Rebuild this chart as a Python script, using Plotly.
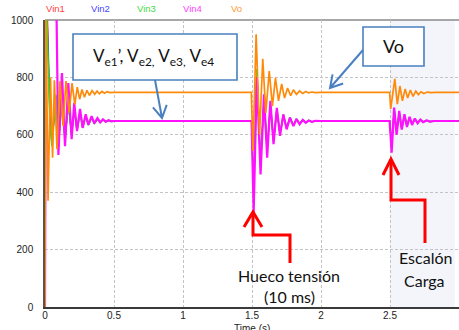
import plotly.graph_objects as go

# ---------------- data ----------------
t_vin = [0, 0.006, 0.02, 0.035, 0.05, 0.08, 0.097, 0.123, 0.145, 0.169, 0.193, 0.212, 0.232, 0.254,
         0.273, 0.295, 0.314, 0.338, 0.357, 0.38, 0.4, 0.42, 0.44, 0.46, 0.48, 0.5,
         1.497, 1.512, 1.535, 1.562, 1.587, 1.61, 1.633, 1.656, 1.68, 1.703, 1.727, 1.751, 1.775,
         1.80, 1.822, 1.845, 1.868, 1.89, 1.912, 1.935, 1.96, 2.0,
         2.497, 2.512, 2.53, 2.548, 2.567, 2.585, 2.605, 2.623, 2.642, 2.66, 2.68, 2.70, 2.72,
         2.74, 2.765, 2.79, 2.82, 3.0]

vin1 = [0, 1150, 980, 700, 570, 730, 565, 728, 582, 708, 601, 689, 616, 679, 626, 667, 635, 659, 641,
        655, 644, 652, 646, 650, 647, 648,
        648, 400, 825, 505, 722, 548, 703, 582, 687, 603, 669, 623, 660, 633, 654, 638, 651, 643,
        650, 645, 649, 648,
        648, 565, 688, 612, 674, 623, 667, 631, 660, 637, 655, 642, 652, 645, 650, 646, 648, 648]

vin2 = [0, 1150, 940, 670, 565, 735, 562, 729, 581, 709, 600, 690, 615, 680, 625, 668, 634, 660, 640,
        655, 644, 652, 646, 650, 647, 648,
        648, 398, 828, 502, 724, 546, 704, 581, 688, 602, 670, 622, 661, 632, 655, 638, 652, 643,
        650, 645, 649, 648,
        648, 562, 689, 611, 675, 622, 668, 630, 661, 636, 656, 641, 653, 645, 650, 646, 648, 648]

vin3 = [0, 1150, 900, 640, 560, 740, 560, 730, 580, 710, 600, 690, 615, 680, 625, 668, 634, 660, 640,
        655, 644, 652, 646, 650, 647, 648,
        648, 395, 830, 500, 725, 545, 705, 580, 688, 602, 670, 622, 661, 632, 655, 638, 652, 643,
        650, 645, 649, 648,
        648, 560, 690, 610, 676, 622, 668, 630, 661, 636, 656, 641, 653, 645, 650, 646, 648, 648]

vin4 = [0, 1150, 1150, 1150, 1150, 1150, 530, 815, 560, 780, 585, 711, 613, 690, 624, 672, 635, 665,
        640, 658, 643, 654, 645, 651, 647, 648,
        648, 329, 800, 462, 741, 520, 718, 567, 694, 596, 671, 619, 660, 630, 655, 637, 652, 642,
        650, 645, 649, 648,
        648, 538, 695, 600, 683, 618, 672, 627, 663, 634, 657, 640, 653, 644, 650, 646, 648, 648]

t_vo = [0, 0.005, 0.022, 0.04, 0.055, 0.068, 0.087, 0.109, 0.131, 0.152, 0.175, 0.196, 0.216, 0.234,
        0.251, 0.268, 0.286, 0.304, 0.322, 0.341, 0.36, 0.377, 0.395, 0.413, 0.431, 0.45, 0.47, 0.5,
        1.495, 1.507, 1.53, 1.555, 1.578, 1.60, 1.625, 1.648, 1.67, 1.692, 1.715, 1.736, 1.758,
        1.78, 1.80, 1.822, 1.845, 1.867, 1.89, 1.91, 1.935, 1.96, 2.0,
        2.497, 2.505, 2.535, 2.553, 2.572, 2.59, 2.61, 2.628, 2.648, 2.667, 2.687, 2.705, 2.725,
        2.745, 2.77, 2.80, 2.83, 3.0]

vo = [0, 1150, 370, 800, 520, 790, 550, 787, 630, 787, 677, 780, 706, 766, 724, 758, 731, 755, 737,
      754, 741, 752, 743, 751, 745, 750, 747, 748,
      748, 544, 950, 600, 865, 676, 822, 700, 798, 718, 777, 728, 763, 736, 757, 741, 753, 744,
      751, 746, 749, 747, 748,
      748, 690, 795, 707, 770, 718, 760, 728, 756, 734, 752, 740, 750, 744, 749, 747, 748, 748]

series_names = ["Vin1", "Vin2", "Vin3", "Vin4", "Vo"]
series_colors = ["#ff1a1a", "#2a2aff", "#22e622", "#ff10ff", "#ff8a0a"]
legend_colors = ["#ff4040", "#4545ff", "#3fdc3f", "#ff40ff", "#ff9a33"]
x_ticks = [0, 0.5, 1, 1.5, 2, 2.5, 3]
x_ticklabels = ["0", "0.5", "1", "1.5", "2", "2.5", "3"]
y_ticks = [0, 200, 400, 600, 800, 1000]
y_ticklabels = ["0", "200", "400", "600", "800", "1000"]

# ---------------- figure ----------------
W, H = 459, 330
L, R, T, B = 45, 0, 20, 23
PW, PH = W - L - R, H - T - B


def X(px):
    return (px - L) / PW


def Y(py):
    return (H - B - py) / PH


fig = go.Figure()
ys = [vin1, vin2, vin3, vin4, vo]
xs = [t_vin, t_vin, t_vin, t_vin, t_vo]
widths = [1.2, 1.2, 1.6, 2.2, 1.7]
for name, xv, yv, c, w in zip(series_names, xs, ys, series_colors, widths):
    fig.add_trace(go.Scatter(x=xv, y=yv, mode="lines", name=name,
                             line=dict(color=c, width=w)))

shapes = []
# shaded load-step region
shapes.append(dict(type="rect", xref="x", yref="paper", x0=2.5, x1=2.97, y0=0, y1=1,
                   fillcolor="#f3f5fb", line=dict(width=0), layer="below"))
# top border
shapes.append(dict(type="line", xref="paper", yref="paper", x0=0, x1=1, y0=1, y1=1,
                   line=dict(color="#8a8a8a", width=1.5), layer="below"))

# text boxes
blue = "#4a80c0"
shapes.append(dict(type="rect", xref="paper", yref="paper", x0=X(73), x1=X(237), y0=Y(80), y1=Y(34),
                   fillcolor="white", line=dict(color=blue, width=1.6), layer="above"))
shapes.append(dict(type="rect", xref="paper", yref="paper", x0=X(363), x1=X(424), y0=Y(66), y1=Y(27),
                   fillcolor="white", line=dict(color=blue, width=1.6), layer="above"))


def arrow_path(x0, y0, x1, y1, hl, hw):
    dx, dy = x1 - x0, y1 - y0
    n = (dx * dx + dy * dy) ** 0.5
    ux, uy = dx / n, dy / n
    bx, by = x1 - ux * hl, y1 - uy * hl
    px_, py_ = -uy, ux
    a1 = (bx + px_ * hw, by + py_ * hw)
    a2 = (bx - px_ * hw, by - py_ * hw)
    return ("M %f %f L %f %f M %f %f L %f %f L %f %f" %
            (X(x0), Y(y0), X(x1), Y(y1), X(a1[0]), Y(a1[1]), X(x1), Y(y1), X(a2[0]), Y(a2[1])))


NOFILL = "rgba(0,0,0,0)"
shapes.append(dict(type="path", xref="paper", yref="paper", path=arrow_path(155, 80, 162, 118, 12, 7),
                   line=dict(color=blue, width=2), fillcolor=NOFILL, layer="above"))
shapes.append(dict(type="path", xref="paper", yref="paper", path=arrow_path(363, 50, 330, 88, 12, 7),
                   line=dict(color=blue, width=2), fillcolor=NOFILL, layer="above"))


def poly(points):
    s = "M %f %f" % (X(points[0][0]), Y(points[0][1]))
    for p in points[1:]:
        s += " L %f %f" % (X(p[0]), Y(p[1]))
    return s


red = "#ff0000"
for pts in ([(244, 227), (253, 212), (262, 227)],
            [(253, 213), (253, 235), (290, 235), (290, 263)],
            [(383, 175), (391, 159), (399, 175)],
            [(391, 160), (391, 200), (425, 200), (425, 243)]):
    shapes.append(dict(type="path", xref="paper", yref="paper", path=poly(pts),
                       line=dict(color=red, width=3), fillcolor=NOFILL, layer="above"))

fig.update_layout(shapes=shapes)

ann = []
leg_x = [55, 100.5, 146.5, 192, 236]
for name, c, px in zip(series_names, legend_colors, leg_x):
    ann.append(dict(text=name, x=X(px), y=Y(8.5), xref="paper", yref="paper", showarrow=False,
                    xanchor="center", yanchor="middle",
                    font=dict(family="Liberation Sans, Arial", size=9.5, color=c)))

cal = "Lato, Open Sans, sans-serif"
ann.append(dict(text="V<sub>e1</sub>’, V<sub>e2,</sub> V<sub>e3,</sub> V<sub>e4</sub>",
                x=X(153), y=Y(57), xref="paper", yref="paper", showarrow=False,
                xanchor="center", yanchor="middle", font=dict(family=cal, size=17, color="#111")))
ann.append(dict(text="Vo", x=X(393), y=Y(46), xref="paper", yref="paper", showarrow=False,
                xanchor="center", yanchor="middle", font=dict(family=cal, size=18, color="#111")))
for txt, px, py in (("Hueco tensión", 289, 275), ("(10 ms)", 289, 296),
                    ("Escalón", 425, 257), ("Carga", 424, 280)):
    ann.append(dict(text=txt, x=X(px), y=Y(py), xref="paper", yref="paper", showarrow=False,
                    xanchor="center", yanchor="middle", font=dict(family=cal, size=16, color="#111")))
ann.append(dict(text="Time (s)", x=X(252), y=Y(328), xref="paper", yref="paper", showarrow=False,
                xanchor="center", yanchor="middle",
                font=dict(family="Liberation Sans, Arial", size=10, color="#222")))

fig.update_layout(
    width=W, height=H,
    margin=dict(l=L, r=R, t=T, b=B, autoexpand=False),
    paper_bgcolor="white", plot_bgcolor="white",
    showlegend=False,
    annotations=ann,
    font=dict(family="Liberation Sans, Arial", size=10, color="#222"),
)
fig.update_xaxes(range=[0, 3], tickvals=x_ticks, ticktext=x_ticklabels, showgrid=True,
                 gridcolor="#c4c4c4", griddash="3px,2px", gridwidth=1, zeroline=False,
                 showline=True, linecolor="#3a3a3a", linewidth=2, ticks="", ticklabelstandoff=-2)
fig.update_yaxes(range=[0, 1000], tickvals=y_ticks, ticktext=y_ticklabels, showgrid=True,
                 gridcolor="#c4c4c4", griddash="3px,2px", gridwidth=1, zeroline=False,
                 showline=True, linecolor="#555", linewidth=1.5, ticks="", ticklabelstandoff=8)

fig.write_html("out.html")
